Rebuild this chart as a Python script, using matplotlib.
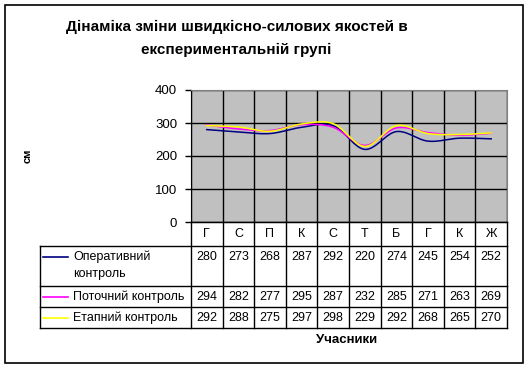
import numpy as np
import matplotlib
matplotlib.use("Agg")
from matplotlib import pyplot as plt
from matplotlib.lines import Line2D
from matplotlib.patches import Rectangle

plt.rcParams['font.family'] = ['Liberation Sans', 'DejaVu Sans']

categories = ["Г", "С", "П", "К", "С", "Т", "Б", "Г", "К", "Ж"]
operatyvnyi = [280, 273, 268, 287, 292, 220, 274, 245, 254, 252]
potochnyi = [294, 282, 277, 295, 287, 232, 285, 271, 263, 269]
etapnyi = [292, 288, 275, 297, 298, 229, 292, 268, 265, 270]
series_names = ["Оперативний\nконтроль", "Поточний контроль", "Етапний контроль"]
series_colors = ["#000080", "#FF00FF", "#FFFF00"]

W, H = 530, 369


def fx(px):
    return px / W


def fy(py):
    return 1 - py / H


def smooth(xs, ys, n=20):
    # catmull-rom like Excel smoothed line
    xs = np.asarray(xs, float)
    ys = np.asarray(ys, float)
    px = np.concatenate([[2 * xs[0] - xs[1]], xs, [2 * xs[-1] - xs[-2]]])
    py = np.concatenate([[2 * ys[0] - ys[1]], ys, [2 * ys[-1] - ys[-2]]])
    ox, oy = [], []
    for i in range(1, len(px) - 2):
        t = np.linspace(0, 1, n, endpoint=False)
        for p, out in ((px, ox), (py, oy)):
            p0, p1, p2, p3 = p[i - 1], p[i], p[i + 1], p[i + 2]
            out.extend(0.5 * ((2 * p1) + (-p0 + p2) * t + (2 * p0 - 5 * p1 + 4 * p2 - p3) * t ** 2
                              + (-p0 + 3 * p1 - 3 * p2 + p3) * t ** 3))
    ox.append(xs[-1])
    oy.append(ys[-1])
    return ox, oy


fig = plt.figure(figsize=(W / 100, H / 100), dpi=100)
fig.patch.set_facecolor("white")

# outer frame
fig.add_artist(Rectangle((fx(5), fy(363)), fx(518), 358 / H, transform=fig.transFigure,
                         fill=False, edgecolor="black", linewidth=1.2))

left, right, top, bottom = 191, 507, 90, 222
ax = fig.add_axes([fx(left), fy(bottom), fx(right - left), (bottom - top) / H])
ax.set_facecolor("#C0C0C0")
ax.set_xlim(0, 10)
ax.set_ylim(0, 400)
ax.set_yticks([0, 100, 200, 300, 400])
ax.set_xticks(np.arange(0, 11))
ax.set_xticklabels([])
ax.tick_params(axis="x", length=0)
ax.tick_params(axis="y", length=4, width=1, labelsize=9.5, pad=6)
ax.grid(True, color="black", linewidth=1)
ax.set_axisbelow(True)
for s in ax.spines.values():
    s.set_color("#808080")
ax.spines["left"].set_color("black")
ax.spines["bottom"].set_color("black")

xs = np.arange(10) + 0.5
for vals, c in zip([operatyvnyi, potochnyi, etapnyi], series_colors):
    sx, sy = smooth(xs, vals)
    ax.plot(sx, sy, color=c, linewidth=1.1)

# data table
col_w = (right - left) / 10
rows = [222, 245.5, 285.5, 307, 328]
lk = dict(color="black", linewidth=1, transform=fig.transFigure)
fs = 9
# category row
fig.add_artist(Line2D([fx(left), fx(right)], [fy(rows[0]), fy(rows[0])], **lk))
for i in range(11):
    x = left + i * col_w
    fig.add_artist(Line2D([fx(x), fx(x)], [fy(rows[0]), fy(rows[-1])], **lk))
for i, c in enumerate(categories):
    fig.text(fx(left + (i + 0.5) * col_w), fy((rows[0] + rows[1]) / 2), c,
             ha="center", va="center", fontsize=fs)
# series rows
for r in rows[1:]:
    fig.add_artist(Line2D([fx(40), fx(right)], [fy(r), fy(r)], **lk))
fig.add_artist(Line2D([fx(40), fx(40)], [fy(rows[1]), fy(rows[-1])], **lk))
for k, (vals, name, c) in enumerate(zip([operatyvnyi, potochnyi, etapnyi], series_names, series_colors)):
    y0 = rows[k + 1]
    ty = y0 + 11
    fig.add_artist(Line2D([fx(43), fx(68)], [fy(ty), fy(ty)], color=c, linewidth=1.2,
                          transform=fig.transFigure))
    if "\n" in name:
        fig.text(fx(73), fy(y0 + 5), name, ha="left", va="top", fontsize=fs, linespacing=1.5)
    else:
        fig.text(fx(73), fy(ty), name, ha="left", va="center", fontsize=fs)
    for i, v in enumerate(vals):
        fig.text(fx(left + (i + 0.5) * col_w), fy(ty), str(v), ha="center", va="center", fontsize=fs)

fig.text(fx(237), fy(27), "Дінаміка зміни швидкісно-силових якостей в", ha="center", va="center",
         fontsize=11, fontweight="bold")
fig.text(fx(236), fy(50), "експериментальній групі", ha="center", va="center",
         fontsize=11, fontweight="bold")
fig.text(fx(28), fy(156), "см", rotation=90, ha="center", va="center", fontsize=8, fontweight="bold")
fig.text(fx(347), fy(340), "Учасники", ha="center", va="center", fontsize=9.5, fontweight="bold")

fig.savefig("out.png", dpi=100)
